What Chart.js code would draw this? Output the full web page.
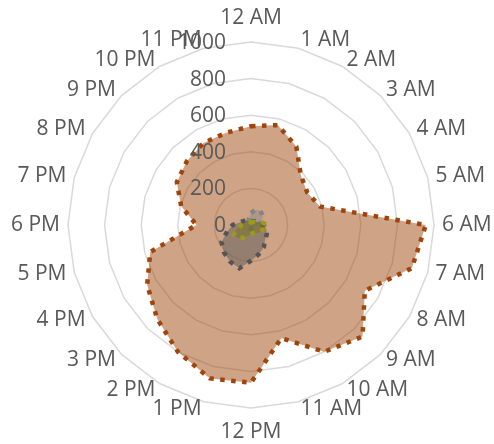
<!DOCTYPE html>
<html>
<head>
<meta charset="utf-8">
<script src="https://cdn.jsdelivr.net/npm/chart.js@4/dist/chart.umd.min.js"></script>
<style>
  html, body { margin: 0; padding: 0; background: #fff; }
  #wrap { width: 494px; height: 444px; }
</style>
</head>
<body>
<div id="wrap"><canvas id="radar"></canvas></div>
<script>
// Hours around the dial, clockwise from the top
const hours = ['12 AM', '1 AM', '2 AM', '3 AM', '4 AM', '5 AM', '6 AM', '7 AM', '8 AM', '9 AM', '10 AM', '11 AM',
               '12 PM', '1 PM', '2 PM', '3 PM', '4 PM', '5 PM', '6 PM', '7 PM', '8 PM', '9 PM', '10 PM', '11 PM'];

// Hourly values per series
const seriesOrange = [540, 565, 495, 385, 355, 390, 955, 910, 718, 862, 800, 640, 862, 868, 800, 725, 655, 570, 298, 395, 468, 495, 518, 522];
const seriesDark   = [20, 20, 25, 30, 35, 45, 65, 87, 100, 110, 140, 165, 195, 245, 230, 210, 186, 135, 100, 60, 45, 35, 25, 20];
const seriesGray   = [65, 85, 95, 85, 75, 55, 40, 30, 25, 20, 20, 20, 20, 20, 20, 20, 20, 20, 20, 20, 20, 20, 25, 40];
const seriesOlive  = [15, 15, 20, 25, 30, 60, 90, 75, 65, 60, 50, 45, 50, 60, 80, 100, 110, 80, 50, 35, 30, 25, 20, 15];

// Radial axis ticks
const tickValues = [0, 200, 400, 600, 800, 1000];

const FONT = { family: "'Open Sans', sans-serif", size: 21 };
const TEXT = '#595959';

function dotted(data, line, fill) {
    return {
        data: data,
        borderColor: line,
        backgroundColor: fill,
        borderWidth: 4.5,
        borderDash: [4.5, 6.5],
        borderCapStyle: 'butt',
        borderJoinStyle: 'miter',
        fill: true,
        pointRadius: 0,
        tension: 0
    };
}

// Hour labels: side labels are centred vertically on their spoke,
// the top and bottom ones centred horizontally.
// Tick labels sit left of the vertical axis, "0" included.
const labelsOverlay = {
    id: 'labelsOverlay',
    afterDatasetsDraw(chart) {
        const r = chart.scales.r;
        const ctx = chart.ctx;
        ctx.save();
        ctx.font = `${FONT.size}px ${FONT.family}`;
        ctx.fillStyle = TEXT;

        hours.forEach((h, i) => {
            const deg = Math.round(i * 360 / hours.length);
            if (deg === 0 || deg === 180) {
                const p = r.getPointPosition(i, r.drawingArea + 24);
                ctx.textAlign = 'center';
                ctx.textBaseline = 'middle';
                ctx.fillText(h, p.x, p.y);
            } else {
                const p = r.getPointPosition(i, r.drawingArea + 8);
                ctx.textAlign = deg < 180 ? 'left' : 'right';
                ctx.textBaseline = 'middle';
                ctx.fillText(h, p.x, p.y);
            }
        });

        ctx.textAlign = 'right';
        ctx.textBaseline = 'middle';
        tickValues.forEach(v => {
            const d = r.getDistanceFromCenterForValue(v);
            ctx.fillText(String(v), r.xCenter - 25, r.yCenter - d + 1);
        });
        ctx.restore();
    }
};

new Chart(document.getElementById('radar'), {
    type: 'radar',
    data: {
        labels: hours,
        datasets: [
            dotted(seriesOlive, '#9C9A1C', 'rgba(120,116,20,0.45)'),
            dotted(seriesDark, '#555555', 'rgba(89,89,89,0.5)'),
            dotted(seriesGray, '#858585', 'rgba(140,140,140,0.5)'),
            dotted(seriesOrange, '#A0440C', 'rgba(158,72,14,0.5)')
        ]
    },
    options: {
        responsive: true,
        maintainAspectRatio: false,
        animation: false,
        layout: { padding: { top: 6, bottom: 0, left: 9, right: 0 } },
        plugins: { legend: { display: false }, tooltip: { enabled: false } },
        scales: {
            r: {
                min: 0,
                max: 1000,
                ticks: { display: false, stepSize: 200 },
                grid: { circular: false, color: '#D9D9D9', lineWidth: 1.5 },
                angleLines: { display: false },
                // kept for layout only; the visible labels come from the overlay
                pointLabels: { color: 'rgba(0,0,0,0)', font: FONT, padding: 10 }
            }
        }
    },
    plugins: [labelsOverlay]
});
</script>
</body>
</html>
